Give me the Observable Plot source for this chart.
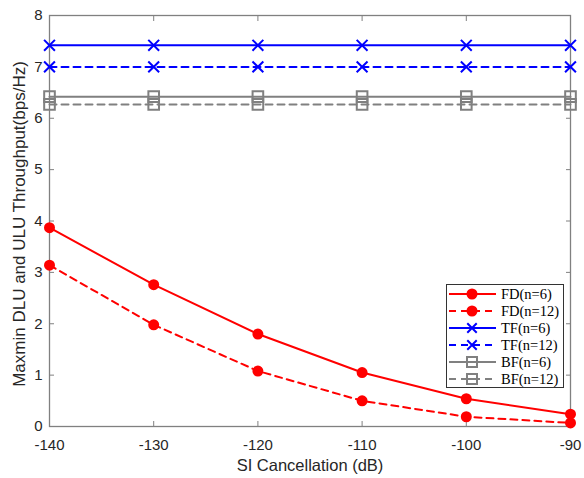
<!DOCTYPE html>
<html>
<head>
<meta charset="utf-8">
<script src="https://cdn.jsdelivr.net/npm/d3@7"></script>
<script src="https://cdn.jsdelivr.net/npm/@observablehq/plot@0.6"></script>
<style>
  body { margin: 0; background: #fff; }
  #wrap { position: relative; width: 584px; height: 478px; }
  #legend { position: absolute; left: 446px; top: 284px; }
  .mainplot g[aria-label$="tick label"] { font-size: 15px; font-family: "Liberation Sans", Arial, sans-serif; fill: #262626; }
</style>
</head>
<body>
<div id="wrap"></div>
<script>
const siCancel = [-140, -130, -120, -110, -100, -90];
const fd6  = [3.87, 2.76, 1.80, 1.05, 0.54, 0.24];
const fd12 = [3.14, 1.98, 1.08, 0.50, 0.19, 0.07];
const tf6  = [7.42, 7.42, 7.42, 7.42, 7.42, 7.42];
const tf12 = [7.00, 7.00, 7.00, 7.00, 7.00, 7.00];
const bf6  = [6.42, 6.42, 6.42, 6.42, 6.42, 6.42];
const bf12 = [6.27, 6.27, 6.27, 6.27, 6.27, 6.27];
const xTicks = [-140, -130, -120, -110, -100, -90];
const yTicks = [0, 1, 2, 3, 4, 5, 6, 7, 8];

const seriesDefs = [
  {name: "FD(n=6)",  values: fd6,  color: "#ff0000", dash: null,  symbol: "circle", fill: "#ff0000", r: 4.5},
  {name: "FD(n=12)", values: fd12, color: "#ff0000", dash: "7,5", symbol: "circle", fill: "#ff0000", r: 4.5},
  {name: "TF(n=6)",  values: tf6,  color: "#0000ff", dash: null,  symbol: "times",  fill: "none",    r: 5},
  {name: "TF(n=12)", values: tf12, color: "#0000ff", dash: "7,5", symbol: "times",  fill: "none",    r: 5},
  {name: "BF(n=6)",  values: bf6,  color: "#808080", dash: null,  symbol: "square", fill: "none",    r: 6},
  {name: "BF(n=12)", values: bf12, color: "#808080", dash: "7,5", symbol: "square", fill: "none",    r: 6}
];

const sans = "Liberation Sans, Arial, sans-serif";
const marks = [];
for (const s of seriesDefs) {
  const data = siCancel.map((x, i) => ({x, y: s.values[i]}));
  marks.push(Plot.line(data, {x: "x", y: "y", stroke: s.color, strokeWidth: 2, strokeDasharray: s.dash}));
  marks.push(Plot.dot(data, {x: "x", y: "y", symbol: s.symbol, r: s.r, stroke: s.color, fill: s.fill, strokeWidth: 2}));
}

const axisColor = "#808080";
const fmt = d => String(d);
const chart = Plot.plot({
  className: "mainplot",
  width: 584,
  height: 478,
  marginLeft: 49,
  marginRight: 14,
  marginTop: 15,
  marginBottom: 52,
  style: {fontFamily: sans, fontSize: "15px", color: "#262626", background: "#fff"},
  x: {domain: [-140, -90]},
  y: {domain: [0, 8]},
  marks: [
    Plot.frame({stroke: axisColor, strokeWidth: 1.3}),
    Plot.axisX(xTicks, {anchor: "bottom", tickSize: -5, stroke: axisColor, tickPadding: 18, fontSize: 15, fontFamily: sans, fill: "#262626", tickFormat: fmt, label: null}),
    Plot.axisX(xTicks, {anchor: "top", tickSize: -5, stroke: axisColor, tickFormat: () => "", label: null}),
    Plot.axisY(yTicks, {anchor: "left", tickSize: -5, stroke: axisColor, tickPadding: 12, fontSize: 15, fontFamily: sans, fill: "#262626", tickFormat: fmt, label: null}),
    Plot.axisY(yTicks, {anchor: "right", tickSize: -5, stroke: axisColor, tickFormat: () => "", label: null}),
    ...marks,
    Plot.text(["SI Cancellation (dB)"], {frameAnchor: "bottom", dy: 44, fontSize: 16.5, fontFamily: sans, fill: "#262626"}),
    Plot.text(["Maxmin DLU and ULU Throughput(bps/Hz)"], {frameAnchor: "left", dx: -30, dy: 3, rotate: -90, textAnchor: "middle", fontSize: 17, fontFamily: sans, fill: "#262626"})
  ]
});
document.getElementById("wrap").appendChild(chart);

// Legend
const lw = 118, lh = 104;
const leg = d3.create("svg").attr("id", "legend").attr("width", lw).attr("height", lh);
leg.append("rect").attr("x", 0.5).attr("y", 0.5).attr("width", lw - 1).attr("height", lh - 1)
  .attr("fill", "#fff").attr("stroke", "#333").attr("stroke-width", 1);
const symGen = {
  circle: d3.symbolCircle, times: d3.symbolTimes, square: d3.symbolSquare
};
seriesDefs.forEach((s, i) => {
  const cy = 10 + i * 17;
  const g = leg.append("g");
  g.append("line").attr("x1", 3).attr("x2", 50).attr("y1", cy).attr("y2", cy)
    .attr("stroke", s.color).attr("stroke-width", 2).attr("stroke-dasharray", s.dash);
  const size = s.symbol === "circle" ? Math.PI * s.r * s.r : (s.symbol === "times" ? 60 : 100);
  g.append("path").attr("d", d3.symbol(symGen[s.symbol], size)())
    .attr("transform", `translate(26,${cy})`)
    .attr("fill", s.symbol === "square" ? "#fff" : s.fill).attr("stroke", s.color).attr("stroke-width", 2);
  if (s.symbol === "square") {
    g.append("line").attr("x1", 21).attr("x2", 31).attr("y1", cy).attr("y2", cy)
      .attr("stroke", s.color).attr("stroke-width", 2);
  }
  g.append("text").attr("x", 55).attr("y", cy).attr("dy", "0.35em")
    .attr("font-family", "Liberation Serif, Times New Roman, serif").attr("font-size", 14.5)
    .attr("fill", "#000").text(s.name);
});
document.getElementById("wrap").appendChild(leg.node());
</script>
</body>
</html>
